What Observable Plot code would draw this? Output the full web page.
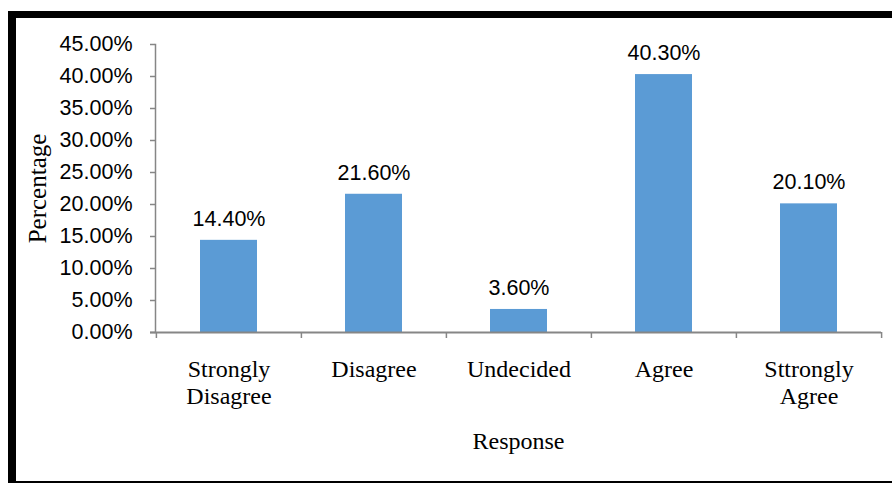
<!DOCTYPE html>
<html><head><meta charset="utf-8">
<script src="https://cdn.jsdelivr.net/npm/d3@7"></script>
<script src="https://cdn.jsdelivr.net/npm/@observablehq/plot@0.6"></script>
<style>
html,body{margin:0;padding:0;background:#fff;}
#wrap{position:relative;width:892px;height:483px;overflow:hidden;background:#fff;}
#frame{position:absolute;left:8px;top:11px;width:900px;height:472px;box-sizing:border-box;border-top:7px solid #000;border-left:8px solid #000;border-bottom:2px solid #000;pointer-events:none;}
#chart{position:absolute;left:0;top:0;}
</style></head><body>
<div id="wrap"><div id="chart"></div><div id="frame"></div></div>
<script>
const categories = ["Strongly Disagree", "Disagree", "Undecided", "Agree", "Sttrongly Agree"];
const categoryLabels = ["Strongly\nDisagree", "Disagree", "Undecided", "Agree", "Sttrongly\nAgree"];
const values = [0.144, 0.216, 0.036, 0.403, 0.201];
const yTicks = [0, 0.05, 0.10, 0.15, 0.20, 0.25, 0.30, 0.35, 0.40, 0.45];
const yTitle = "Percentage";
const xTitle = "Response";

const data = categories.map((c, i) => ({category: c, value: values[i]}));
const labelMap = new Map(categories.map((c, i) => [c, categoryLabels[i]]));
const fmt = d3.format(".2%");
const sans = "'Liberation Sans', Arial, sans-serif";
const serif = "'Liberation Serif', 'Times New Roman', serif";
const axisColor = "#868686";
const W = 892, H = 483, mL = 155, mR = 11, mT = 44, mB = 151;
const step = (W - mL - mR) / categories.length;

const chart = Plot.plot({
  width: W, height: H,
  marginLeft: mL, marginRight: mR, marginTop: mT, marginBottom: mB,
  style: {background: "transparent", overflow: "visible", fontFamily: sans},
  x: {domain: categories, paddingInner: 0.607, paddingOuter: 0.3035, axis: null},
  y: {domain: [0, 0.45], axis: null},
  marks: [
    Plot.barY(data, {x: "category", y: "value", fill: "#5B9BD5"}),
    Plot.frame({anchor: "left", stroke: axisColor, strokeWidth: 1.5}),
    Plot.ruleY([0], {stroke: axisColor, strokeWidth: 2, insetLeft: -5}),
    Plot.axisY({ticks: yTicks, tickFormat: fmt, tickSize: 5, tickPadding: 18,
      fontSize: 21.5, fontFamily: sans, fill: "#000", stroke: axisColor, strokeWidth: 1.5, label: null}),
    Plot.axisX({tickSize: 0, tickPadding: 25, tickFormat: c => labelMap.get(c),
      fontSize: 24, fontFamily: serif, lineHeight: 1.125, fill: "#000", label: null}),
    Plot.ruleX(categories, {x: d => d, dx: -step / 2, y1: 0, y2: 0, insetBottom: -6, stroke: axisColor, strokeWidth: 1.5}),
    Plot.ruleX([categories[categories.length - 1]], {x: d => d, dx: step / 2, y1: 0, y2: 0, insetBottom: -6, stroke: axisColor, strokeWidth: 1.5}),
    Plot.text(data, {x: "category", y: "value", text: d => fmt(d.value), lineAnchor: "bottom", dy: -14.5,
      fontSize: 21.5, fontFamily: sans, fill: "#000"}),
    Plot.text([yTitle], {text: d => d, frameAnchor: "left", rotate: -90, dx: -118, textAnchor: "middle", lineAnchor: "middle",
      fontSize: 25, fontFamily: serif, fill: "#000"}),
    Plot.text([xTitle], {text: d => d, frameAnchor: "bottom", lineAnchor: "bottom", dy: 116,
      fontSize: 24, fontFamily: serif, fill: "#000"})
  ]
});
document.getElementById("chart").appendChild(chart);
</script>
</body></html>
